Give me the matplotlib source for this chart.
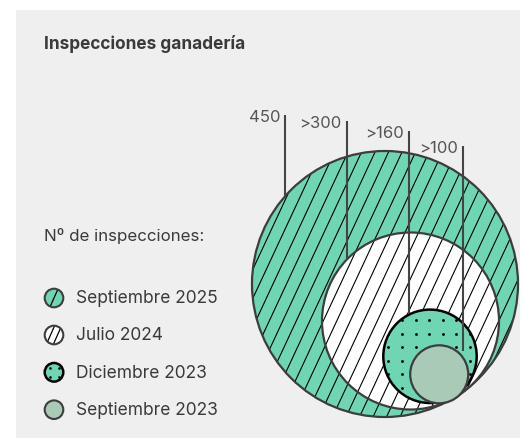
import numpy as np
import matplotlib.pyplot as plt
from matplotlib.patches import Circle, Rectangle

plt.rcParams['font.family'] = ['Inter', 'DejaVu Sans']

# Data
labels = ["450", ">300", ">160", ">100"]
periods = ["Septiembre 2025", "Julio 2024", "Diciembre 2023", "Septiembre 2023"]
title = "Inspecciones ganadería"
legend_title = "Nº de inspecciones:"

# Layout (pixel coordinates, y down)
centers = [(385, 285), (410.5, 322), (430, 357.3), (439.2, 375.3)]
radii = [133, 88.5, 46.7, 29]
lead_x = [285, 346.7, 409, 463.3]
lead_top = [116, 122, 131.7, 147]
lead_bot = [197, 261, 314, 352]

GREEN = '#6fd6b4'
SAGE = '#a8cab7'
EDGE = '#3d3d3d'
TEXT = '#3a3a3a'
BG = '#efefef'

fig = plt.figure(figsize=(5.23, 4.39), dpi=100)
ax = fig.add_axes([0, 0, 1, 1])
ax.set_xlim(0, 523)
ax.set_ylim(439, 0)
ax.axis('off')

ax.add_patch(Rectangle((16, 11), 504, 430, fc=BG, ec='none', zorder=0))


def hatch(circle, spacing=13.5, angle=65, lw=0.8, z=2):
    dx, dy = np.cos(np.radians(angle)), -np.sin(np.radians(angle))
    for k in np.arange(-40, 41):
        x0 = 300 + k * spacing
        ln, = ax.plot([x0 - dx * 400, x0 + dx * 400], [285 - dy * 400, 285 + dy * 400],
                      color='black', lw=lw, zorder=z, solid_capstyle='butt')
        ln.set_clip_path(circle)


def dots(circle, spacing=13.6, x0=388.3, y0=321, size=4.2, z=2):
    xs = np.arange(x0 - 10 * spacing, x0 + 10 * spacing, spacing)
    ys = np.arange(y0 - 10 * spacing, y0 + 10 * spacing, spacing)
    gx, gy = np.meshgrid(xs, ys)
    sc = ax.scatter(gx.ravel(), gy.ravel(), s=size, color='black', zorder=z, lw=0)
    sc.set_clip_path(circle)


# Big circle - Septiembre 2025
c0 = Circle(centers[0], radii[0], fc=GREEN, ec='none', zorder=1)
ax.add_patch(c0)
hatch(c0, z=1.5)
ax.add_patch(Circle(centers[0], radii[0], fc='none', ec=EDGE, lw=1.6, zorder=1.6))

# White circle - Julio 2024
c1 = Circle(centers[1], radii[1], fc='white', ec='none', zorder=2)
ax.add_patch(c1)
hatch(c1, z=2.5)
ax.add_patch(Circle(centers[1], radii[1], fc='none', ec=EDGE, lw=1.6, zorder=2.6))

# Dotted circle - Diciembre 2023
c2 = Circle(centers[2], radii[2], fc=GREEN, ec='none', zorder=3)
ax.add_patch(c2)
dots(c2, z=3.5)
ax.add_patch(Circle(centers[2], radii[2], fc='none', ec='black', lw=1.8, zorder=3.6))

# Small circle - Septiembre 2023
ax.add_patch(Circle(centers[3], radii[3], fc=SAGE, ec=EDGE, lw=1.6, zorder=4))

# Leader lines and labels
for lab, x, t, b in zip(labels, lead_x, lead_top, lead_bot):
    ax.plot([x, x], [t, b], color='#444444', lw=1.5, zorder=5, solid_capstyle='butt')
    ax.text(x - 5, t + 6.5, lab, ha='right', va='baseline', fontsize=12, color='#555555')

# Title
ax.text(44, 44, title, ha='left', va='center', fontsize=12.4, fontweight='bold', color=TEXT)

# Legend
ax.text(43.5, 236, legend_title, ha='left', va='center', fontsize=12.2, color=TEXT)
row_y = [299, 336, 373.3, 410.7]
mx, mr = 54, 9.3
for i, (per, y) in enumerate(zip(periods, row_y)):
    if i == 0:
        m = Circle((mx, y), mr, fc=GREEN, ec='none', zorder=6)
        ax.add_patch(m)
        ln, = ax.plot([mx - 4, mx + 4], [y + 9, y - 9], color='black', lw=0.9, zorder=6.5)
        ln.set_clip_path(m)
        ax.add_patch(Circle((mx, y), mr, fc='none', ec=EDGE, lw=1.5, zorder=7))
    elif i == 1:
        m = Circle((mx, y), mr, fc='white', ec='none', zorder=6)
        ax.add_patch(m)
        for off in (-3.5, 3.5):
            ln, = ax.plot([mx + off - 4, mx + off + 4], [y + 9, y - 9], color='black', lw=0.9, zorder=6.5)
            ln.set_clip_path(m)
        ax.add_patch(Circle((mx, y), mr, fc='none', ec=EDGE, lw=1.5, zorder=7))
    elif i == 2:
        ax.add_patch(Circle((mx, y), mr, fc=GREEN, ec='black', lw=1.8, zorder=6))
        ax.scatter([mx - 4.5, mx + 4.5, mx - 4.5, mx + 4.5], [y - 4.5, y - 4.5, y + 4.5, y + 4.5],
                   s=3.5, color='black', lw=0, zorder=7)
    else:
        ax.add_patch(Circle((mx, y), mr, fc=SAGE, ec=EDGE, lw=1.5, zorder=6))
    ax.text(76, y, per, ha='left', va='center', fontsize=12.5, color=TEXT)

fig.savefig('out.png', dpi=100, facecolor='white')
